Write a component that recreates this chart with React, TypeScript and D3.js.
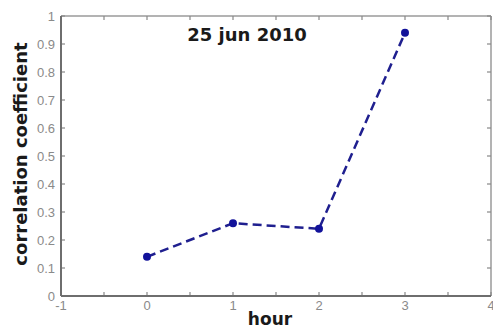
import { useRef, useEffect } from 'react';
import * as d3 from 'd3';

const W = 493;
const H = 329;
const MARGIN = { top: 16, right: 2, bottom: 33, left: 61 };

const hours = [0, 1, 2, 3];
const corr = [0.14, 0.26, 0.24, 0.94];
const xTicks = [-1, 0, 1, 2, 3, 4];
const xMinor = [-0.5, 0.5, 1.5, 2.5, 3.5];
const yTicks = [0, 0.1, 0.2, 0.3, 0.4, 0.5, 0.6, 0.7, 0.8, 0.9, 1];

const LINE = '#1f1f8f';
const TICK_TEXT = '#8a8a8a';

export default function App() {
  const svgRef = useRef<SVGSVGElement>(null);

  useEffect(() => {
    if (!svgRef.current) return;
    const svg = d3.select(svgRef.current);
    svg.selectAll('*').remove();

    const innerW = W - MARGIN.left - MARGIN.right;
    const innerH = H - MARGIN.top - MARGIN.bottom;

    const x = d3.scaleLinear().domain([-1, 4]).range([0, innerW]);
    const y = d3.scaleLinear().domain([0, 1]).range([innerH, 0]);

    svg.append('rect').attr('width', W).attr('height', H).attr('fill', '#fff');

    const g = svg.append('g').attr('transform', `translate(${MARGIN.left},${MARGIN.top})`);

    // frame: top/right lighter
    g.append('line').attr('x1', 0).attr('x2', innerW).attr('y1', 0).attr('y2', 0)
      .attr('stroke', '#9a9a9a').attr('stroke-width', 1.5);
    g.append('line').attr('x1', innerW).attr('x2', innerW).attr('y1', 0).attr('y2', innerH)
      .attr('stroke', '#9a9a9a').attr('stroke-width', 1.5);

    // inward ticks on all four sides
    const tickLen = 4;
    const allX = [...xTicks, ...xMinor];
    allX.forEach((t) => {
      g.append('line').attr('x1', x(t)).attr('x2', x(t)).attr('y1', innerH).attr('y2', innerH - tickLen)
        .attr('stroke', '#888').attr('stroke-width', 1.2);
      g.append('line').attr('x1', x(t)).attr('x2', x(t)).attr('y1', 0).attr('y2', tickLen)
        .attr('stroke', '#888').attr('stroke-width', 1.2);
    });
    yTicks.forEach((t) => {
      g.append('line').attr('x1', 0).attr('x2', tickLen).attr('y1', y(t)).attr('y2', y(t))
        .attr('stroke', '#888').attr('stroke-width', 1.2);
      g.append('line').attr('x1', innerW).attr('x2', innerW - tickLen).attr('y1', y(t)).attr('y2', y(t))
        .attr('stroke', '#888').attr('stroke-width', 1.2);
    });

    // left/bottom axes darker
    g.append('line').attr('x1', 0).attr('x2', innerW).attr('y1', innerH).attr('y2', innerH)
      .attr('stroke', '#6e6e6e').attr('stroke-width', 2);
    g.append('line').attr('x1', 0).attr('x2', 0).attr('y1', 0).attr('y2', innerH)
      .attr('stroke', '#6e6e6e').attr('stroke-width', 2);

    const tickFont = 'Arial, "Liberation Sans", sans-serif';
    g.selectAll('text.xt').data(xTicks).enter().append('text')
      .attr('x', (d) => x(d)).attr('y', innerH + 14)
      .attr('text-anchor', 'middle').attr('font-family', tickFont).attr('font-size', 13)
      .attr('fill', TICK_TEXT).text((d) => String(d));

    g.selectAll('text.yt').data(yTicks).enter().append('text')
      .attr('x', -6).attr('y', (d) => y(d)).attr('dy', '0.35em')
      .attr('text-anchor', 'end').attr('font-family', tickFont).attr('font-size', 13)
      .attr('fill', TICK_TEXT).text((d) => (d === 0 || d === 1 ? String(d) : d.toFixed(1)));

    const data = hours.map((h, i) => ({ h, v: corr[i] }));
    const line = d3.line<{ h: number; v: number }>().x((d) => x(d.h)).y((d) => y(d.v));
    g.append('path').datum(data).attr('d', line).attr('fill', 'none')
      .attr('stroke', LINE).attr('stroke-width', 2.5).attr('stroke-dasharray', '9,5');
    g.selectAll('circle').data(data).enter().append('circle')
      .attr('cx', (d) => x(d.h)).attr('cy', (d) => y(d.v)).attr('r', 4).attr('fill', '#12129a');

    const labelFont = 'Verdana, "DejaVu Sans", sans-serif';
    svg.append('text').attr('x', 247).attr('y', 41).attr('text-anchor', 'middle')
      .attr('font-family', labelFont).attr('font-weight', 'bold').attr('font-size', 18)
      .attr('fill', '#1a1a1a').text('25 jun 2010');

    svg.append('text').attr('x', 270).attr('y', 325).attr('text-anchor', 'middle')
      .attr('font-family', labelFont).attr('font-weight', 'bold').attr('font-size', 17)
      .attr('fill', '#1a1a1a').text('hour');

    svg.append('text')
      .attr('transform', `translate(27,${154}) rotate(-90)`)
      .attr('text-anchor', 'middle')
      .attr('font-family', labelFont).attr('font-weight', 'bold').attr('font-size', 18)
      .attr('fill', '#1a1a1a').text('correlation coefficient');
  }, []);

  return <svg ref={svgRef} width={W} height={H} style={{ position: 'absolute', left: 0, top: 0 }} />;
}
